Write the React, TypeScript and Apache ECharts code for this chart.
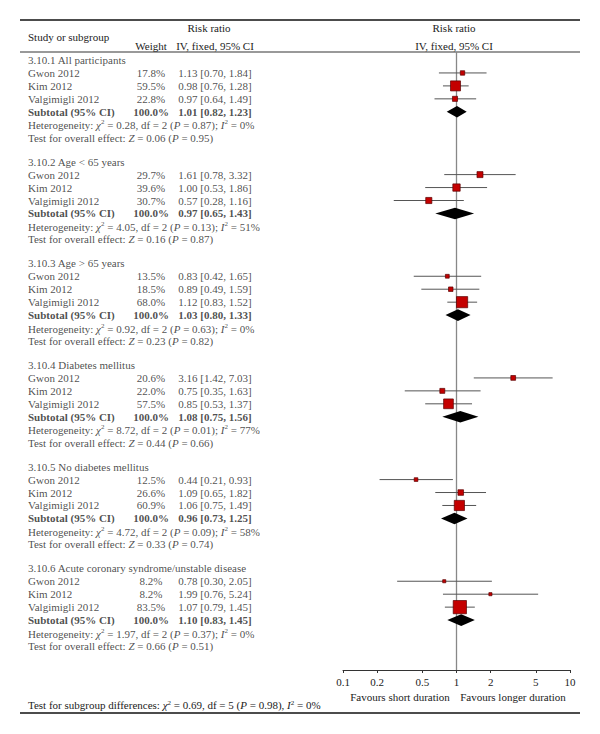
import React, { useEffect, useRef } from "react";
import * as echarts from "echarts";

// ---------------- data ----------------
const groupTitles = [
  "3.10.1 All participants",
  "3.10.2 Age < 65 years",
  "3.10.3 Age > 65 years",
  "3.10.4 Diabetes mellitus",
  "3.10.5 No diabetes mellitus",
  "3.10.6 Acute coronary syndrome/unstable disease",
];
const studyNames = ["Gwon 2012", "Kim 2012", "Valgimigli 2012"];
const weights = [
  [17.8, 59.5, 22.8],
  [29.7, 39.6, 30.7],
  [13.5, 18.5, 68.0],
  [20.6, 22.0, 57.5],
  [12.5, 26.6, 60.9],
  [8.2, 8.2, 83.5],
];
const ratios = [
  [1.13, 0.98, 0.97],
  [1.61, 1.0, 0.57],
  [0.83, 0.89, 1.12],
  [3.16, 0.75, 0.85],
  [0.44, 1.09, 1.06],
  [0.78, 1.99, 1.07],
];
const lowers = [
  [0.7, 0.76, 0.64],
  [0.78, 0.53, 0.28],
  [0.42, 0.49, 0.83],
  [1.42, 0.35, 0.53],
  [0.21, 0.65, 0.75],
  [0.3, 0.76, 0.79],
];
const uppers = [
  [1.84, 1.28, 1.49],
  [3.32, 1.86, 1.16],
  [1.65, 1.59, 1.52],
  [7.03, 1.63, 1.37],
  [0.93, 1.82, 1.49],
  [2.05, 5.24, 1.45],
];
const subtotalRatios = [1.01, 0.97, 1.03, 1.08, 0.96, 1.1];
const subtotalLowers = [0.82, 0.65, 0.8, 0.75, 0.73, 0.83];
const subtotalUppers = [1.23, 1.43, 1.33, 1.56, 1.25, 1.45];
const hetChi2 = ["0.28", "4.05", "0.92", "8.72", "4.72", "1.97"];
const hetDf = [2, 2, 2, 2, 2, 2];
const hetP = ["0.87", "0.13", "0.63", "0.01", "0.09", "0.37"];
const hetI2 = [0, 51, 0, 77, 58, 0];
const effectZ = ["0.06", "0.16", "0.23", "0.44", "0.33", "0.66"];
const effectP = ["0.95", "0.87", "0.82", "0.66", "0.74", "0.51"];
const diffChi2 = "0.69";
const diffDf = 5;
const diffP = "0.98";
const diffI2 = 0;
const xTicks = [0.1, 0.2, 0.5, 1, 2, 5, 10];

// ---------------- layout ----------------
const FONT = "'Liberation Serif', 'DejaVu Serif', serif";
const FS = 11;
const ROW_PX = 12.95;
const ROW0_Y = 60;
const GRID_TOP = 52;
const AXIS_Y = 670;
const GROUP_STEP = 7.85;
const HET_OFF = 5.05;
const TEST_OFF = 6.0;
const Y_MIN = (GRID_TOP - ROW0_Y) / ROW_PX;
const Y_MAX = (AXIS_Y - ROW0_Y) / ROW_PX;
const COL_NAME = 28;
const COL_WEIGHT = 151;
const COL_CI = 215;
const TEXT_COLOR = "#222";

const fmtCI = (r: number, l: number, h: number) =>
  `${r.toFixed(2)} [${l.toFixed(2)}, ${h.toFixed(2)}]`;

const rich = {
  i: { fontStyle: "italic", fontFamily: FONT, fontSize: FS, color: TEXT_COLOR },
  sup: { fontFamily: FONT, fontSize: 7, lineHeight: 7, verticalAlign: "top", color: TEXT_COLOR },
  b: { fontWeight: "bold", fontFamily: FONT, fontSize: FS, color: TEXT_COLOR },
};

export default function App() {
  const ref = useRef<HTMLDivElement>(null);

  useEffect(() => {
    document.body.style.margin = "0";
    if (!ref.current) return;
    const chart = echarts.init(ref.current, undefined, { renderer: "svg" });

    const textData: any[] = [];
    const studyData: any[] = [];
    const diamondData: any[] = [];

    groupTitles.forEach((title, g) => {
      const base = g * GROUP_STEP;
      textData.push({ name: title, value: [COL_NAME, base], label: { align: "left" } });
      studyNames.forEach((s, i) => {
        const row = base + 1 + i;
        textData.push({ name: s, value: [COL_NAME, row], label: { align: "left" } });
        textData.push({ name: weights[g][i].toFixed(1) + "%", value: [COL_WEIGHT, row], label: { align: "center" } });
        textData.push({
          name: fmtCI(ratios[g][i], lowers[g][i], uppers[g][i]),
          value: [COL_CI, row],
          label: { align: "center" },
        });
        studyData.push([ratios[g][i], row, lowers[g][i], uppers[g][i], weights[g][i]]);
      });
      const sumW = weights[g].reduce((a, b) => a + b, 0);
      const subRow = base + 4;
      textData.push({ name: "Subtotal (95% CI)", value: [COL_NAME, subRow], label: { align: "left", fontWeight: "bold" } });
      textData.push({ name: Math.round(sumW * 10) / 10 >= 99.9 ? "100.0%" : sumW.toFixed(1) + "%", value: [COL_WEIGHT, subRow], label: { align: "center", fontWeight: "bold" } });
      textData.push({
        name: fmtCI(subtotalRatios[g], subtotalLowers[g], subtotalUppers[g]),
        value: [COL_CI, subRow],
        label: { align: "center", fontWeight: "bold" },
      });
      diamondData.push([subtotalRatios[g], subRow, subtotalLowers[g], subtotalUppers[g]]);
      textData.push({
        name: `Heterogeneity: {i|χ}{sup|2} = ${hetChi2[g]}, df = ${hetDf[g]} ({i|P} = ${hetP[g]}); {i|I}{sup|2} = ${hetI2[g]}%`,
        value: [COL_NAME, base + HET_OFF],
        label: { align: "left" },
      });
      textData.push({
        name: `Test for overall effect: {i|Z} = ${effectZ[g]} ({i|P} = ${effectP[g]})`,
        value: [COL_NAME, base + TEST_OFF],
        label: { align: "left" },
      });
    });

    const gText = (text: string, x: number, y: number, align: string, extra: any = {}) => ({
      type: "text",
      x,
      y,
      silent: true,
      style: {
        text,
        fontFamily: FONT,
        fontSize: FS,
        fill: TEXT_COLOR,
        align,
        verticalAlign: "middle",
        rich: {
          i: { fontStyle: "italic", fontFamily: FONT, fontSize: FS, fill: TEXT_COLOR },
          sup: { fontFamily: FONT, fontSize: 7, lineHeight: 7, verticalAlign: "top", fill: TEXT_COLOR },
        },
        ...extra,
      },
    });

    const option: any = {
      animation: false,
      backgroundColor: "#fff",
      grid: [
        { left: 0, right: 0, top: GRID_TOP, bottom: 734 - AXIS_Y },
        { left: 343, width: 227, top: GRID_TOP, bottom: 734 - AXIS_Y },
      ],
      xAxis: [
        { type: "value", gridIndex: 0, min: 0, max: 600, show: false },
        {
          type: "log",
          gridIndex: 1,
          logBase: 10,
          min: 0.1,
          max: 10,
          position: "bottom",
          axisLine: { show: true, onZero: false, lineStyle: { color: "#333", width: 1 } },
          axisTick: { show: true, length: 3, customValues: xTicks, lineStyle: { color: "#333", width: 1 } },
          axisLabel: {
            customValues: xTicks,
            formatter: (v: number) => String(+Number(v).toPrecision(3)),
            fontFamily: FONT,
            fontSize: FS,
            color: TEXT_COLOR,
            margin: 6,
          },
          splitLine: { show: false },
          minorTick: { show: false },
        },
      ],
      yAxis: [
        { type: "value", gridIndex: 0, min: Y_MIN, max: Y_MAX, inverse: true, show: false },
        { type: "value", gridIndex: 1, min: Y_MIN, max: Y_MAX, inverse: true, show: false },
      ],
      series: [
        {
          type: "scatter",
          xAxisIndex: 0,
          yAxisIndex: 0,
          symbolSize: 0,
          silent: true,
          clip: false,
          data: textData,
          label: {
            show: true,
            position: [0, 0],
            verticalAlign: "middle",
            formatter: (p: any) => p.name,
            fontFamily: FONT,
            fontSize: FS,
            color: TEXT_COLOR,
            lineHeight: 13,
            rich,
          },
        },
        {
          type: "line",
          xAxisIndex: 1,
          yAxisIndex: 1,
          symbol: "none",
          silent: true,
          z: 1,
          data: [
            [1, Y_MIN],
            [1, Y_MAX],
          ],
          lineStyle: { color: "#888", width: 1.3 },
        },
        {
          type: "custom",
          xAxisIndex: 1,
          yAxisIndex: 1,
          z: 3,
          silent: true,
          data: studyData,
          encode: { x: [0, 2, 3], y: 1 },
          renderItem: (params: any, api: any) => {
            const c = api.coord([api.value(0), api.value(1)]);
            const l = api.coord([api.value(2), api.value(1)]);
            const h = api.coord([api.value(3), api.value(1)]);
            const s = 2 + 0.135 * api.value(4);
            return {
              type: "group",
              children: [
                {
                  type: "line",
                  shape: { x1: l[0], y1: c[1], x2: h[0], y2: c[1] },
                  style: { stroke: "#555", lineWidth: 1 },
                },
                {
                  type: "rect",
                  shape: { x: c[0] - s / 2, y: c[1] - s / 2, width: s, height: s },
                  style: { fill: "#c40000", stroke: "#5a0000", lineWidth: 0.7 },
                },
              ],
            };
          },
        },
        {
          type: "custom",
          xAxisIndex: 1,
          yAxisIndex: 1,
          z: 3,
          silent: true,
          data: diamondData,
          encode: { x: [0, 2, 3], y: 1 },
          renderItem: (params: any, api: any) => {
            const c = api.coord([api.value(0), api.value(1)]);
            const l = api.coord([api.value(2), api.value(1)]);
            const h = api.coord([api.value(3), api.value(1)]);
            const hh = 5.8;
            return {
              type: "polygon",
              shape: {
                points: [
                  [l[0], c[1]],
                  [c[0], c[1] - hh],
                  [h[0], c[1]],
                  [c[0], c[1] + hh],
                ],
              },
              style: { fill: "#000" },
            };
          },
        },
      ],
      graphic: [
        { type: "line", silent: true, shape: { x1: 20, y1: 20, x2: 580, y2: 20 }, style: { stroke: "#111", lineWidth: 1.3 } },
        { type: "line", silent: true, shape: { x1: 20, y1: 52, x2: 580, y2: 52 }, style: { stroke: "#777", lineWidth: 1.6 } },
        { type: "line", silent: true, shape: { x1: 20, y1: 713, x2: 580, y2: 713 }, style: { stroke: "#111", lineWidth: 1.5 } },
        gText("Study or subgroup", COL_NAME, 36.5, "left"),
        gText("Risk ratio", 209, 27.5, "center"),
        gText("Weight", COL_WEIGHT, 46, "center"),
        gText("IV, fixed, 95% CI", COL_CI, 46, "center"),
        gText("Risk ratio", 454, 27.5, "center"),
        gText("IV, fixed, 95% CI", 454, 46, "center"),
        gText("Favours short duration", 400, 697, "center"),
        gText("Favours longer duration", 513, 697, "center"),
        gText(
          `Test for subgroup differences: {i|χ}{sup|2} = ${diffChi2}, df = ${diffDf} ({i|P} = ${diffP}), {i|I}{sup|2} = ${diffI2}%`,
          COL_NAME,
          705,
          "left"
        ),
      ],
    };

    chart.setOption(option);
    return () => chart.dispose();
  }, []);

  return <div ref={ref} style={{ width: 600, height: 734 }} />;
}
